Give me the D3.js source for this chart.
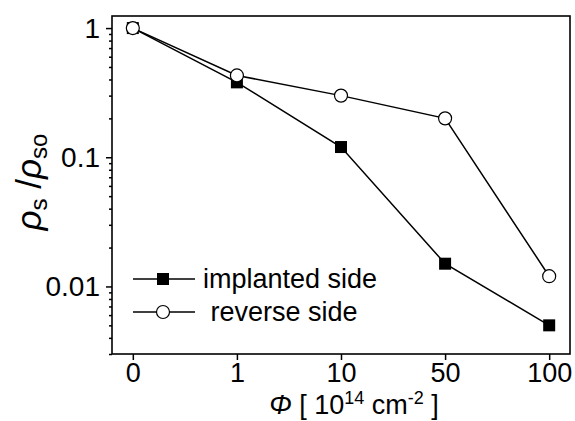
<!DOCTYPE html>
<html>
<head>
  <script src="https://d3js.org/d3.v7.min.js"></script>
  <style>
    body { margin: 0; background: #fff; }
    text { font-family: "Liberation Sans", Arial, sans-serif; fill: #000; }
  </style>
</head>
<body>
  <div id="chart"></div>
  <script>
    var categories = ["0", "1", "10", "50", "100"];
    var implanted = [1, 0.38, 0.12, 0.015, 0.005];
    var reverse = [1, 0.43, 0.30, 0.20, 0.012];
    var yTickLabels = [1, 0.1, 0.01];

    var margin = { top: 16, right: 5, bottom: 67, left: 112 };
    var width = 575 - margin.left - margin.right;
    var height = 421 - margin.top - margin.bottom;

    var root = d3.select("#chart").append("svg")
      .attr("width", 575)
      .attr("height", 421);

    var svg = root.append("g")
      .attr("transform", "translate(" + margin.left + "," + margin.top + ")");

    var x = d3.scalePoint()
      .domain(categories)
      .range([0, width])
      .padding(0.2);

    var y = d3.scaleLog()
      .domain([0.003, 1.24])
      .range([height, 0]);

    // frame
    svg.append("rect")
      .attr("width", width)
      .attr("height", height)
      .attr("fill", "none")
      .attr("stroke", "#000")
      .attr("stroke-width", 1.6);

    // x axis
    var xAxis = svg.append("g")
      .attr("transform", "translate(0," + height + ")")
      .call(d3.axisBottom(x).tickSize(6).tickPadding(3));
    xAxis.select(".domain").remove();
    xAxis.selectAll("line").attr("stroke-width", 1.5);
    xAxis.selectAll("text")
      .style("font-family", "'Liberation Sans', Arial, sans-serif")
      .style("font-size", "27px");

    // y axis with minor ticks
    var allTicks = y.ticks().filter(function(d) { return d >= 0.003 && d <= 1.24; });
    var yAxis = svg.append("g")
      .call(d3.axisLeft(y)
        .tickValues(allTicks)
        .tickSize(3)
        .tickFormat(function(d) { return yTickLabels.indexOf(+d.toPrecision(1)) >= 0 ? d3.format("~g")(d) : ""; }));
    yAxis.select(".domain").remove();
    yAxis.selectAll(".tick").each(function(d) {
      var major = yTickLabels.indexOf(+d.toPrecision(1)) >= 0;
      d3.select(this).select("line")
        .attr("x2", major ? -6 : -3)
        .attr("stroke-width", 1.5);
      d3.select(this).select("text")
        .attr("x", -12)
        .style("font-family", "'Liberation Sans', Arial, sans-serif")
        .style("font-size", "28px");
    });

    var line = d3.line()
      .x(function(d, i) { return x(categories[i]); })
      .y(function(d) { return y(d); });

    var sq = 12;

    // implanted side
    svg.append("path")
      .datum(implanted)
      .attr("d", line)
      .attr("fill", "none")
      .attr("stroke", "#000")
      .attr("stroke-width", 1.5);
    svg.selectAll(".sq")
      .data(implanted)
      .enter().append("rect")
      .attr("class", "sq")
      .attr("x", function(d, i) { return x(categories[i]) - sq / 2; })
      .attr("y", function(d) { return y(d) - sq / 2; })
      .attr("width", sq)
      .attr("height", sq)
      .attr("fill", "#000");

    // reverse side
    svg.append("path")
      .datum(reverse)
      .attr("d", line)
      .attr("fill", "none")
      .attr("stroke", "#000")
      .attr("stroke-width", 1.5);
    svg.selectAll(".circ")
      .data(reverse)
      .enter().append("circle")
      .attr("class", "circ")
      .attr("cx", function(d, i) { return x(categories[i]); })
      .attr("cy", function(d) { return y(d); })
      .attr("r", 6.5)
      .attr("fill", "#fff")
      .attr("stroke", "#000")
      .attr("stroke-width", 1.2);

    // legend
    var legend = svg.append("g").attr("transform", "translate(21,0)");
    var rows = [
      { name: "implanted side", y: 263, marker: "square" },
      { name: " reverse side", y: 296, marker: "circle" }
    ];
    rows.forEach(function(r) {
      legend.append("line")
        .attr("x1", 0).attr("x2", 62)
        .attr("y1", r.y).attr("y2", r.y)
        .attr("stroke", "#000").attr("stroke-width", 1.5);
      if (r.marker === "square") {
        legend.append("rect")
          .attr("x", 30 - sq / 2).attr("y", r.y - sq / 2)
          .attr("width", sq).attr("height", sq)
          .attr("fill", "#000");
      } else {
        legend.append("circle")
          .attr("cx", 30).attr("cy", r.y).attr("r", 6.5)
          .attr("fill", "#fff").attr("stroke", "#000").attr("stroke-width", 1.2);
      }
      legend.append("text")
        .attr("x", 70)
        .attr("y", r.y + 9)
        .attr("xml:space", "preserve")
        .style("white-space", "pre")
        .style("font-size", "27px")
        .text(r.name);
    });

    // x label
    var xl = root.append("text")
      .attr("x", 354)
      .attr("y", 414)
      .attr("text-anchor", "middle")
      .style("font-size", "27px");
    xl.append("tspan").style("font-style", "italic").text("\u03A6");
    xl.append("tspan").text(" [ 10");
    xl.append("tspan").attr("dy", -10).style("font-size", "18px").text("14");
    xl.append("tspan").attr("dy", 10).text(" cm");
    xl.append("tspan").attr("dy", -10).style("font-size", "18px").text("-2");
    xl.append("tspan").attr("dy", 10).text(" ]");

    // y label
    var yl = root.append("text")
      .attr("transform", "translate(41,182) rotate(-90)")
      .attr("text-anchor", "middle")
      .style("font-size", "35px");
    yl.append("tspan").style("font-style", "italic").text("\u03C1");
    yl.append("tspan").attr("dy", 6).style("font-size", "24px").text("s");
    yl.append("tspan").attr("dy", -6).text(" /");
    yl.append("tspan").style("font-style", "italic").text("\u03C1");
    yl.append("tspan").attr("dy", 6).style("font-size", "24px").text("so");
  </script>
</body>
</html>
